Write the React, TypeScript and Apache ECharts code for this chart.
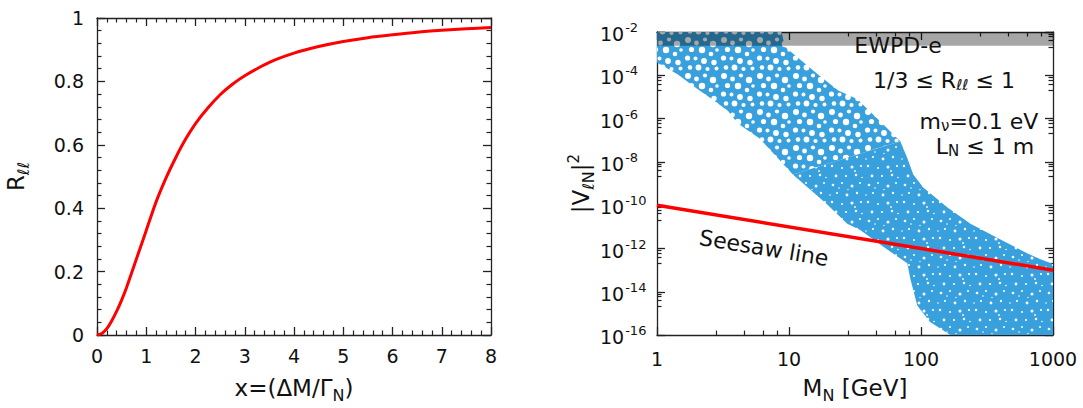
import React, { useEffect, useRef } from 'react';
import * as echarts from 'echarts';

// ---------- left panel: R_ll vs x ----------
const rX = [0, 0.1, 0.2, 0.3, 0.4, 0.5, 0.6, 0.8, 1.0, 1.2, 1.4, 1.6, 1.8, 2.0, 2.25, 2.5, 2.75, 3, 3.5, 4, 4.5, 5, 5.5, 6, 6.5, 7, 7.5, 8];
const rY = [0, 0.005, 0.02, 0.045, 0.075, 0.11, 0.15, 0.24, 0.33, 0.42, 0.495, 0.56, 0.618, 0.667, 0.716, 0.758, 0.791, 0.818, 0.86, 0.889, 0.91, 0.926, 0.938, 0.947, 0.955, 0.961, 0.966, 0.97];
const leftXTicks = [0, 8, 1];
const leftYTicks = [0, 1, 0.2];

// ---------- right panel: |V|^2 vs M_N ----------
const seesawM = [1, 1000];
const seesawV = [1e-10, 1e-13];
const ewpdLow = 2.3e-3;
const ewpdHigh = 1e-2;

// outline of the scanned points (upper, sparser part)
const sparseM = [1, 8.8, 9.3, 16.6, 23.6, 32.8, 46.6, 69.7, 10.7, 6.0, 5.24, 4.1, 3.44, 2.6, 1.94, 1.44, 1];
const sparseV = [1e-2, 1e-2, 2.1e-3, 1.1e-4, 2e-5, 8e-6, 1e-6, 9e-8, 2.6e-9, 1.2e-7, 2.1e-7, 5.9e-7, 2.3e-6, 8.1e-6, 2.8e-5, 1.1e-4, 3.9e-4];
// outline of the scanned points (lower, denser part)
const denseM = [69.7, 78.7, 87.4, 104, 158, 237, 400, 641, 805, 1000, 1000, 167, 117, 93.7, 83, 78.7, 55.5, 34.6, 27.6, 19.4, 10.7];
const denseV = [9e-8, 1.5e-8, 2.6e-9, 6.6e-10, 8.1e-11, 1.4e-11, 2.6e-12, 5.9e-13, 3.2e-13, 1.9e-13, 1e-16, 1e-16, 4e-16, 2.3e-15, 4e-14, 2.1e-13, 8.9e-13, 7.2e-12, 1.4e-11, 1.1e-10, 2.6e-9];

const FONT = 'DejaVu Sans';
const INK = '#111';
const BLUE = '#38a0dc';
const TILE = 36;

const circles = (list: number[][]) => list.map(([x, y, r]) => `<circle cx='${x}' cy='${y}' r='${r}'/>`).join('');
const svgTile = (holes: number[][]) =>
  'data:image/svg+xml;charset=utf-8,' +
  encodeURIComponent(
    `<svg xmlns='http://www.w3.org/2000/svg' width='${TILE}' height='${TILE}'><rect width='${TILE}' height='${TILE}' fill='${BLUE}'/><g fill='#ffffff'>${circles(holes)}</g></svg>`
  );
const sparseTile = svgTile([
  [4, 4, 3.0], [12.5, 7, 2.4], [21, 3.5, 2.1], [29, 8, 3.2], [7.5, 13.5, 2.6], [18, 14, 3.2],
  [27, 18, 2.3], [33, 14, 1.8], [3.5, 22, 2.6], [11.5, 22.5, 2.0], [20, 25, 2.9], [30, 26.5, 2.7],
  [6, 31.5, 2.3], [14.5, 31.5, 2.9], [23.5, 33, 2.1], [32.5, 32.5, 2.0],
]);
const denseTile = svgTile([
  [5, 5, 1.35], [14, 3, 1.0], [24, 6, 1.5], [32, 3, 1.0], [9, 13, 1.1], [19, 15, 1.4], [29, 13, 1.2],
  [4, 22, 1.25], [14, 24, 1.0], [24, 23, 1.5], [33, 22, 1.1], [8, 32, 1.4], [18, 32, 1.1], [28, 31, 1.25],
  [34, 33.5, 0.8], [11, 8, 0.8], [27, 27, 0.9], [2, 15, 0.8], [20, 9.5, 0.7],
]);

const subStyle = (size: number) => ({ fontSize: size, fontFamily: FONT, color: INK, verticalAlign: 'bottom', lineHeight: size });
const supStyle = (size: number) => ({ fontSize: size, fontFamily: FONT, color: INK, verticalAlign: 'top', lineHeight: size });

export default function App() {
  const ref = useRef<HTMLDivElement>(null);
  useEffect(() => {
    document.body.style.margin = '0';
    if (!ref.current) return;
    const chart = echarts.init(ref.current, undefined, { renderer: 'svg' });

    const tickCommon = {
      axisLine: { show: true, onZero: false, lineStyle: { color: '#222', width: 1.3 } },
      axisTick: { show: true, inside: true, length: 8, lineStyle: { color: '#222', width: 1.3 } },
      minorTick: { show: true, splitNumber: 5, length: 4.5, lineStyle: { color: '#222', width: 1.2 } },
      splitLine: { show: false },
      minorSplitLine: { show: false },
    };
    const labelCommon = { fontSize: 19, fontFamily: FONT, color: INK };
    const nameStyle = (rich: any) => ({ fontSize: 23, fontFamily: FONT, color: INK, lineHeight: 30, rich });
    const annoRich = { sub: { font: `15px "${FONT}"`, fill: INK, verticalAlign: 'bottom', lineHeight: 12 } };

    const option: any = {
      animation: false,
      backgroundColor: '#fff',
      grid: [
        { left: 96, top: 18, width: 395, height: 321.5, show: false },
        { left: 657, top: 32, width: 396, height: 309.5, show: false },
      ],
      xAxis: [
        {
          gridIndex: 0, type: 'value', min: leftXTicks[0], max: leftXTicks[1], interval: leftXTicks[2], position: 'bottom',
          ...tickCommon,
          axisLabel: { ...labelCommon, margin: 11 },
          name: 'x=(ΔM/Γ{sub|N})', nameLocation: 'middle', nameGap: 38,
          nameTextStyle: nameStyle({ sub: subStyle(16) }),
        },
        {
          gridIndex: 0, type: 'value', min: leftXTicks[0], max: leftXTicks[1], interval: leftXTicks[2], position: 'top',
          ...tickCommon, axisLabel: { show: false },
        },
        {
          gridIndex: 1, type: 'log', logBase: 10, min: 1, max: 1000, position: 'bottom',
          ...tickCommon,
          axisLabel: { ...labelCommon, margin: 14, formatter: (v: number) => String(Math.round(v)) },
          name: 'M{sub|N} [GeV]', nameLocation: 'middle', nameGap: 37,
          nameTextStyle: nameStyle({ sub: subStyle(16) }),
        },
        {
          gridIndex: 1, type: 'log', logBase: 10, min: 1, max: 1000, position: 'top',
          ...tickCommon, axisLabel: { show: false },
        },
      ],
      yAxis: [
        {
          gridIndex: 0, type: 'value', min: leftYTicks[0], max: leftYTicks[1], interval: leftYTicks[2], position: 'left',
          ...tickCommon,
          axisLabel: { ...labelCommon, margin: 13 },
          name: 'R{sub|ℓℓ}', nameLocation: 'middle', nameGap: 66, nameRotate: 90,
          nameTextStyle: nameStyle({ sub: subStyle(16) }),
        },
        {
          gridIndex: 0, type: 'value', min: leftYTicks[0], max: leftYTicks[1], interval: leftYTicks[2], position: 'right',
          ...tickCommon, axisLabel: { show: false },
        },
        {
          gridIndex: 1, type: 'log', logBase: 10, min: 1e-16, max: 1e-2, interval: 2, position: 'left',
          ...tickCommon,
          axisLabel: {
            ...labelCommon, margin: 57, align: 'left', lineHeight: 24,
            formatter: (v: number) => {
              const e = Math.round(Math.log10(v));
              return e % 2 === 0 ? '{b|10}{sup|' + e + '}' : '';
            },
            rich: {
              b: { fontSize: 19, fontFamily: FONT, color: INK, verticalAlign: 'top', padding: [4.5, 0, 0, 0] },
              sup: { fontSize: 13, fontFamily: FONT, color: INK, verticalAlign: 'top', padding: [1, 0, 0, 1] },
            },
          },
          name: '|V{sub|ℓN}|{sup|2}', nameLocation: 'middle', nameGap: 58, nameRotate: 90,
          nameTextStyle: nameStyle({ sub: subStyle(16), sup: supStyle(15) }),
        },
        {
          gridIndex: 1, type: 'log', logBase: 10, min: 1e-16, max: 1e-2, interval: 2, position: 'right',
          ...tickCommon, axisLabel: { show: false },
        },
      ],
      series: [
        {
          type: 'line', xAxisIndex: 0, yAxisIndex: 0, symbol: 'none', smooth: 0.25,
          lineStyle: { color: '#ff0000', width: 3 },
          data: rX.map((x, i) => [x, rY[i]]),
          z: 5,
        },
        {
          type: 'custom', xAxisIndex: 2, yAxisIndex: 2, z: 2,
          data: [[10, 1e-5], [100, 1e-12]],
          renderItem: (params: any, api: any) => {
            const ms = params.dataIndex === 0 ? sparseM : denseM;
            const vs = params.dataIndex === 0 ? sparseV : denseV;
            const pts = ms.map((m, i) => api.coord([m, vs[i]]));
            return {
              type: 'polygon',
              shape: { points: pts },
              style: {
                fill: {
                  image: params.dataIndex === 0 ? sparseTile : denseTile,
                  repeat: 'repeat', imageWidth: TILE, imageHeight: TILE,
                },
                stroke: null,
              },
            };
          },
        },
        {
          type: 'custom', xAxisIndex: 2, yAxisIndex: 2, z: 3,
          data: [[10, ewpdLow]],
          renderItem: (params: any, api: any) => {
            const a = api.coord([1, ewpdHigh]);
            const b = api.coord([1000, ewpdLow]);
            return {
              type: 'rect',
              shape: { x: a[0], y: a[1], width: b[0] - a[0], height: b[1] - a[1] },
              style: { fill: 'rgba(0,0,0,0.35)' },
            };
          },
        },
        {
          type: 'line', xAxisIndex: 2, yAxisIndex: 2, symbol: 'none', z: 5,
          lineStyle: { color: '#ff0000', width: 3.5 },
          data: seesawM.map((m, i) => [m, seesawV[i]]),
        },
      ],
      graphic: [
        {
          type: 'text', x: 898, y: 45, z: 10,
          style: { text: 'EWPD-e', font: `22px "${FONT}"`, fill: INK, align: 'center', verticalAlign: 'middle' },
        },
        {
          type: 'text', x: 944, y: 80, z: 10,
          style: {
            text: '1/3 ≤ R{sub|ℓℓ} ≤ 1', font: `22px "${FONT}"`, fill: INK, align: 'center', verticalAlign: 'middle',
            lineHeight: 24, rich: annoRich,
          },
        },
        {
          type: 'text', x: 979, y: 121, z: 10,
          style: {
            text: 'm{sub|ν}=0.1 eV', font: `22px "${FONT}"`, fill: INK, align: 'center', verticalAlign: 'middle',
            lineHeight: 24, rich: annoRich,
          },
        },
        {
          type: 'text', x: 985, y: 146, z: 10,
          style: {
            text: 'L{sub|N} ≤ 1 m', font: `22px "${FONT}"`, fill: INK, align: 'center', verticalAlign: 'middle',
            lineHeight: 24, rich: annoRich,
          },
        },
        {
          type: 'text', x: 764, y: 248, rotation: -0.165, z: 10,
          style: { text: 'Seesaw line', font: `22px "${FONT}"`, fill: INK, align: 'center', verticalAlign: 'middle' },
        },
      ],
    };
    chart.setOption(option);
    return () => chart.dispose();
  }, []);
  return <div ref={ref} style={{ width: 1083, height: 408 }} />;
}
